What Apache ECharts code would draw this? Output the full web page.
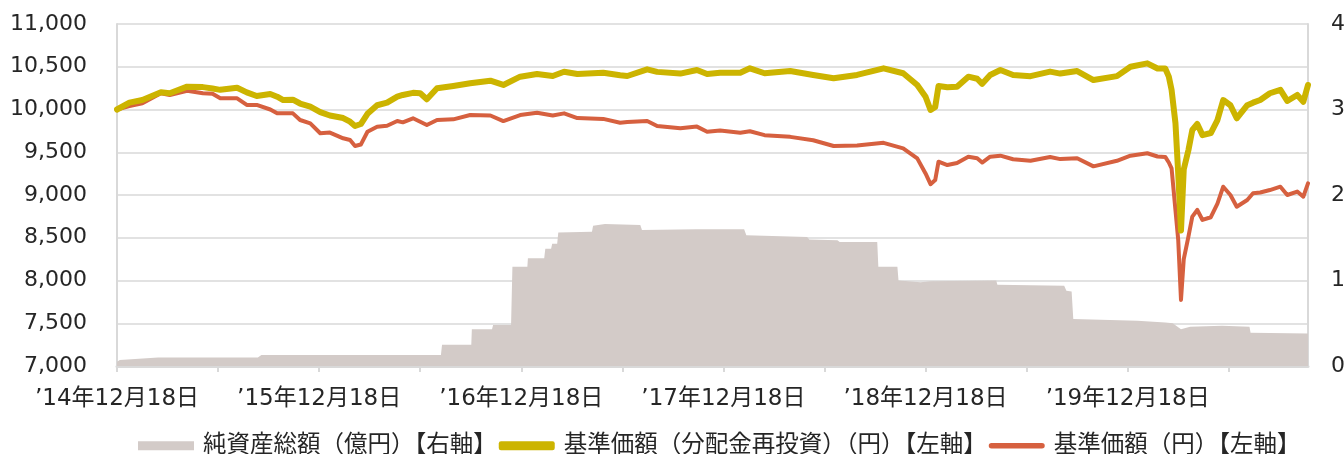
<!DOCTYPE html>
<html>
<head>
<meta charset="utf-8">
<script src="https://cdn.jsdelivr.net/npm/echarts@6/dist/echarts.min.js"></script>
<style>
html, body { margin: 0; padding: 0; background: #fff; }
#chart { width: 1344px; height: 454px; }
</style>
</head>
<body>
<div id="chart"></div>
<script>
// 基準価額（分配金再投資）と基準価額の日付
var lineDates = [
  '2014-12-18','2015-01-10','2015-02-03','2015-03-06','2015-03-22','2015-04-23','2015-05-21','2015-06-08',
  '2015-06-22','2015-07-22','2015-08-09','2015-08-27','2015-09-21','2015-10-03','2015-10-14','2015-11-01',
  '2015-11-14','2015-12-02','2015-12-20','2016-01-07','2016-01-31','2016-02-13','2016-02-22','2016-03-02',
  '2016-03-14','2016-04-01','2016-04-19','2016-05-07','2016-05-17','2016-06-05','2016-06-18','2016-06-30',
  '2016-07-18','2016-08-17','2016-09-17','2016-10-23','2016-11-16','2016-12-16','2017-01-16','2017-02-14',
  '2017-03-04','2017-03-28','2017-05-14','2017-06-14','2017-06-27','2017-08-02','2017-08-20','2017-10-01',
  '2017-10-31','2017-11-19','2017-12-12','2018-01-18','2018-02-05','2018-03-01','2018-04-17','2018-05-28',
  '2018-07-04','2018-08-16','2018-10-03','2018-11-08','2018-12-03','2018-12-18','2018-12-27','2019-01-05',
  '2019-01-11','2019-01-27','2019-02-14','2019-03-04','2019-03-20','2019-03-29','2019-04-13','2019-05-01',
  '2019-05-24','2019-06-25','2019-07-30','2019-08-18','2019-09-18','2019-10-17','2019-11-29','2019-12-23',
  '2020-01-23','2020-02-11','2020-02-25','2020-03-01','2020-03-06','2020-03-13','2020-03-18','2020-03-23',
  '2020-03-28','2020-04-06','2020-04-13','2020-04-22','2020-05-01','2020-05-16','2020-05-28','2020-06-08',
  '2020-06-21','2020-07-02','2020-07-21','2020-08-01','2020-08-14','2020-09-01','2020-09-20','2020-10-02',
  '2020-10-20','2020-10-31','2020-11-09'
];
var reinvestValues = [
  10000,10080,10111,10201,10190,10267,10262,10245,
  10230,10255,10200,10158,10181,10150,10111,10115,
  10070,10033,9970,9930,9900,9857,9807,9830,
  9950,10050,10080,10150,10170,10195,10190,10119,
  10248,10275,10306,10337,10287,10384,10415,10392,
  10442,10415,10430,10400,10392,10470,10440,10420,
  10462,10415,10430,10430,10482,10424,10450,10404,
  10365,10404,10482,10424,10287,10150,9994,10030,
  10275,10260,10265,10384,10360,10300,10404,10462,
  10404,10390,10443,10420,10450,10345,10390,10500,
  10540,10480,10480,10385,10230,9840,9250,8585,
  9300,9525,9760,9830,9700,9725,9877,10111,
  10050,9897,10050,10080,10111,10190,10230,10100,
  10170,10090,10287
];
var priceValues = [
  10000,10040,10073,10190,10170,10220,10190,10185,
  10131,10131,10053,10053,10000,9955,9955,9955,
  9877,9838,9722,9730,9663,9643,9573,9590,
  9740,9799,9810,9865,9850,9897,9857,9818,
  9877,9885,9935,9930,9865,9935,9963,9930,
  9955,9900,9890,9845,9855,9865,9807,9780,
  9800,9740,9755,9729,9745,9700,9680,9640,
  9573,9580,9610,9545,9428,9252,9127,9175,
  9390,9350,9375,9448,9430,9380,9448,9460,
  9418,9400,9444,9420,9430,9335,9400,9460,
  9488,9450,9445,9380,9312,8825,8474,7773,
  8250,8513,8747,8825,8708,8740,8900,9097,
  9000,8863,8942,9020,9030,9058,9097,9000,
  9040,8980,9136
];

// 純資産総額（億円）
var assetDates = [
  '2014-12-18','2014-12-23','2015-03-01','2015-08-29','2015-09-05','2016-06-30','2016-07-25','2016-07-27',
  '2016-09-19','2016-09-20','2016-10-26','2016-10-28','2016-11-30','2016-12-02','2016-12-29','2016-12-30',
  '2017-01-29','2017-01-31','2017-02-11','2017-02-13','2017-02-22','2017-02-24','2017-04-24','2017-04-26',
  '2017-05-17','2017-07-20','2017-07-23','2017-10-31','2018-01-25','2018-01-29','2018-05-17','2018-05-21',
  '2018-07-11','2018-07-15','2018-09-22','2018-09-24','2018-10-28','2018-10-30','2018-12-09','2018-12-27',
  '2019-04-24','2019-04-26','2019-08-25','2019-08-29','2019-09-08','2019-09-11','2020-01-05','2020-02-25',
  '2020-03-08','2020-03-23','2020-04-09','2020-06-06','2020-07-25','2020-07-27','2020-11-09'
];
var assetValues = [
  0.05,0.07,0.10,0.10,0.13,0.13,0.13,0.25,
  0.25,0.43,0.43,0.48,0.48,1.16,1.16,1.26,
  1.26,1.37,1.37,1.43,1.43,1.56,1.57,1.64,
  1.66,1.65,1.59,1.60,1.60,1.53,1.51,1.48,
  1.47,1.45,1.45,1.16,1.16,1.00,0.98,0.99,
  1.00,0.95,0.94,0.88,0.87,0.55,0.53,0.51,
  0.50,0.43,0.46,0.47,0.46,0.39,0.38
];

var leftTicks = [7000, 11000, 500];
var rightTicks = [0, 4, 1];

var FONT = "'DejaVu Sans', 'Noto Sans CJK JP', sans-serif";
var GRIDCOLOR = '#d9d9d9';

// 2014-12-18 からの月数
function toMonths(s) {
  var p = s.split('-');
  return (+p[0] - 2014) * 12 + (+p[1] - 12) + (+p[2] - 18) / 30.44;
}
function pairs(dates, vals) {
  return dates.map(function (d, i) { return [toMonths(d), vals[i]]; });
}

var names = ['純資産総額（億円）【右軸】', '基準価額（分配金再投資）（円）【左軸】', '基準価額（円）【左軸】'];
var colors = ['#d3cbc8', '#ccb400', '#d6603f'];

var myChart = echarts.init(document.getElementById('chart'));
var option = {
  animation: false,
  textStyle: { fontFamily: FONT },
  grid: { left: 117, right: 36, top: 24, bottom: 88, outerBoundsMode: 'none', containLabel: false },
  legend: {
    left: 133, top: 429,
    itemWidth: 56, itemHeight: 9, itemGap: 2,
    textStyle: { fontSize: 23.5, color: '#262626', fontFamily: FONT, padding: [0, 0, 0, 4] },
    data: [
      { name: names[0], icon: 'rect', itemStyle: { color: colors[0], borderWidth: 0 } },
      { name: names[1], icon: 'roundRect', itemStyle: { color: colors[1], borderWidth: 0 } },
      { name: names[2], icon: 'path://M3,0 L57,0 A3,3 0 0 1 57,6 L3,6 A3,3 0 0 1 3,0 Z', itemStyle: { color: colors[2], borderWidth: 0 } }
    ]
  },
  xAxis: {
    type: 'value',
    min: 0,
    max: toMonths('2020-11-09'),
    interval: 6,
    axisLine: { onZero: false, lineStyle: { color: GRIDCOLOR, width: 3 } },
    axisTick: { show: true, length: 6, lineStyle: { color: GRIDCOLOR, width: 2 } },
    splitLine: { show: false },
    axisLabel: {
      margin: 22,
      fontSize: 23,
      color: '#262626',
      showMaxLabel: false,
      alignMinLabel: 'center',
      formatter: function (v) {
        if (Math.abs(v % 12) < 1e-6) return '\u2019' + (14 + v / 12) + '年12月18日';
        return '';
      }
    }
  },
  yAxis: [
    {
      type: 'value',
      min: leftTicks[0], max: leftTicks[1], interval: leftTicks[2],
      axisLine: { show: true, onZero: false, lineStyle: { color: GRIDCOLOR, width: 2 } },
      axisTick: { show: false },
      splitLine: { lineStyle: { color: GRIDCOLOR, width: 1.5 } },
      axisLabel: {
        margin: 30, fontSize: 22, color: '#262626',
        formatter: function (v) { return v.toLocaleString('en-US'); }
      }
    },
    {
      type: 'value',
      position: 'right',
      min: rightTicks[0], max: rightTicks[1], interval: rightTicks[2],
      axisLine: { show: true, onZero: false, lineStyle: { color: GRIDCOLOR, width: 2 } },
      axisTick: { show: false },
      splitLine: { show: false },
      axisLabel: { margin: 23, fontSize: 22, color: '#262626' }
    }
  ],
  series: [
    {
      name: names[0],
      type: 'line',
      yAxisIndex: 1,
      showSymbol: false,
      symbol: 'none',
      color: colors[0],
      lineStyle: { width: 0 },
      areaStyle: { color: colors[0], opacity: 1 },
      z: 1,
      data: pairs(assetDates, assetValues)
    },
    {
      name: names[1],
      type: 'line',
      yAxisIndex: 0,
      symbol: 'none',
      color: colors[1],
      lineStyle: { width: 6, color: colors[1], cap: 'round', join: 'round' },
      z: 3,
      data: pairs(lineDates, reinvestValues)
    },
    {
      name: names[2],
      type: 'line',
      yAxisIndex: 0,
      symbol: 'none',
      color: colors[2],
      lineStyle: { width: 4, color: colors[2], cap: 'round', join: 'round' },
      z: 2,
      data: pairs(lineDates, priceValues)
    }
  ]
};
myChart.setOption(option);
</script>
</body>
</html>
